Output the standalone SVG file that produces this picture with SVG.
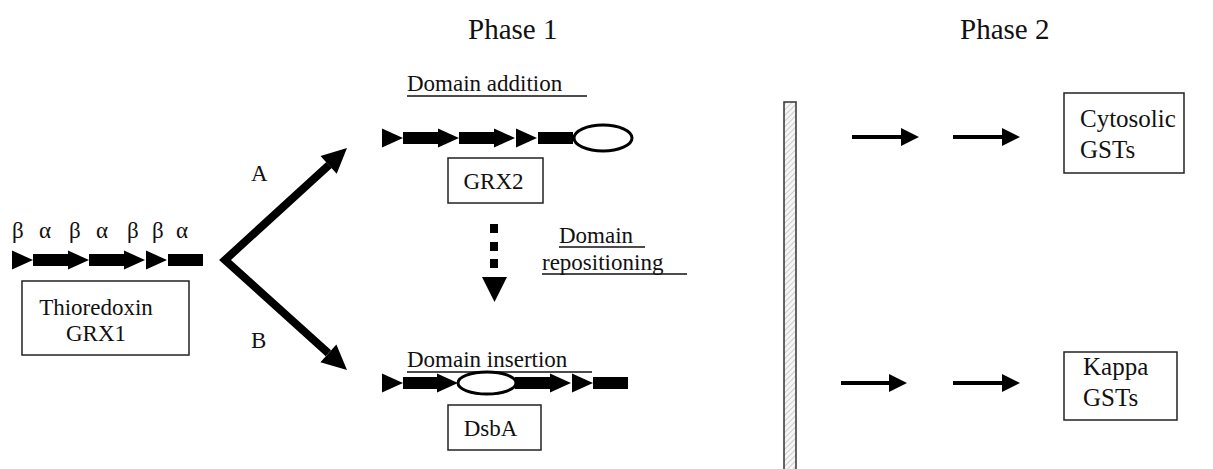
<svg xmlns="http://www.w3.org/2000/svg" width="1213" height="469" viewBox="0 0 1213 469">
<style>
text{font-family:"Liberation Serif","Times New Roman",serif;fill:#111;}
.lbl{font-size:23px;}
.big{font-size:25px;}
.ph{font-size:29px;}
.box{fill:#fff;stroke:#222;stroke-width:1.5;}
.ul{stroke:#111;stroke-width:1.5;}
.blk{fill:#000;}
.oval{fill:#fff;stroke:#000;stroke-width:3;}
.thick{stroke:#000;stroke-width:8;fill:none;}
.thin{stroke:#000;stroke-width:4;fill:none;}
</style>
<defs>
<pattern id="hatch" width="4" height="4" patternUnits="userSpaceOnUse" patternTransform="rotate(45)">
<rect width="4" height="4" fill="#f6f6f6"/>
<line x1="0" y1="0" x2="0" y2="4" stroke="#cccccc" stroke-width="2"/>
</pattern>
<path id="tri" d="M0,-9.5 L21,0 L0,9.5 Z"/>
<rect id="hel" x="0" y="-6" width="35" height="12"/>
</defs>

<text class="ph" x="468" y="39">Phase 1</text>
<text class="ph" x="960" y="39">Phase 2</text>

<g id="thioredoxin">
<text class="lbl" x="12" y="238">β</text>
<text class="lbl" x="39" y="238">α</text>
<text class="lbl" x="69" y="238">β</text>
<text class="lbl" x="96" y="238">α</text>
<text class="lbl" x="127" y="238">β</text>
<text class="lbl" x="152" y="238">β</text>
<text class="lbl" x="176" y="238">α</text>
<g class="blk">
<use href="#tri" x="12" y="260"/>
<use href="#hel" x="33" y="260"/>
<use href="#tri" x="68" y="260"/>
<use href="#hel" x="89" y="260"/>
<use href="#tri" x="124" y="260"/>
<use href="#tri" x="146" y="260"/>
<use href="#hel" x="168" y="260"/>
</g>
<rect class="box" x="22" y="281" width="167" height="74"/>
<text class="lbl" x="96" y="315" text-anchor="middle">Thioredoxin</text>
<text class="lbl" x="96" y="341" text-anchor="middle">GRX1</text>
</g>

<g id="grx2">
<text class="lbl" x="407" y="91">Domain addition</text>
<line class="ul" x1="407" y1="96" x2="587" y2="96"/>
<g class="blk">
<use href="#tri" x="382" y="138"/>
<use href="#hel" x="403" y="138"/>
<use href="#tri" x="438" y="138"/>
<use href="#hel" x="459" y="138"/>
<use href="#tri" x="494" y="138"/>
<use href="#tri" x="516" y="138"/>
<use href="#hel" x="538" y="138"/>
</g>
<ellipse class="oval" cx="603" cy="138" rx="29" ry="13"/>
<rect class="box" x="448" y="158" width="95" height="45"/>
<text class="lbl" x="493.5" y="189" text-anchor="middle">GRX2</text>
</g>

<g id="repositioning">
<text class="lbl" x="559" y="243">Domain</text>
<line class="ul" x1="559" y1="247" x2="645" y2="247"/>
<text class="lbl" x="542" y="270">repositioning</text>
<line class="ul" x1="542" y1="274" x2="687" y2="274"/>
</g>

<g id="dsba">
<text class="lbl" x="407" y="367">Domain insertion</text>
<line class="ul" x1="407" y1="372" x2="592" y2="372"/>
<g class="blk">
<use href="#tri" x="382" y="383"/>
<use href="#hel" x="403" y="383"/>
<use href="#tri" x="437" y="383"/>
<use href="#hel" x="515" y="383"/>
<use href="#tri" x="550" y="383"/>
<use href="#tri" x="572" y="383"/>
<use href="#hel" x="593" y="383"/>
</g>
<ellipse class="oval" cx="487" cy="383" rx="29" ry="11"/>
<rect class="box" x="448" y="405" width="93" height="45"/>
<text class="lbl" x="490.5" y="436" text-anchor="middle">DsbA</text>
</g>

<g id="barrier">
<rect x="784" y="102" width="12" height="380" fill="url(#hatch)" stroke="#333" stroke-width="1.5"/>
</g>

<g id="cytosolic">
<rect class="box" x="1064" y="93" width="120" height="80"/>
<text class="big" x="1080" y="127">Cytosolic</text>
<text class="big" x="1080" y="158">GSTs</text>
</g>

<g id="kappa">
<rect class="box" x="1064" y="352" width="113" height="68"/>
<text class="big" x="1083" y="375">Kappa</text>
<text class="big" x="1083" y="406">GSTs</text>
</g>

<g id="connectors">
<text class="lbl" x="251" y="181">A</text>
<text class="lbl" x="251" y="348">B</text>
<polyline class="thick" points="329,165 225,260 328.4,353.3" stroke-linejoin="miter"/>
<polygon class="blk" points="347,148 336.7,173.7 320.5,156.1"/>
<polygon class="blk" points="347,370 320.4,362.2 336.4,344.4"/>
<g class="blk">
<rect x="490" y="224" width="8" height="9"/>
<rect x="490" y="242" width="8" height="9"/>
<rect x="490" y="259" width="8" height="9"/>
<polygon points="482,277 507,277 494.5,302"/>
</g>
<line class="thin" x1="852" y1="137" x2="903" y2="137"/>
<polygon class="blk" points="901,128 919,137 901,146"/>
<line class="thin" x1="953" y1="137" x2="1004" y2="137"/>
<polygon class="blk" points="1002,128 1020,137 1002,146"/>
<line class="thin" x1="841" y1="383" x2="891" y2="383"/>
<polygon class="blk" points="889,374 907,383 889,392"/>
<line class="thin" x1="953" y1="383" x2="1004" y2="383"/>
<polygon class="blk" points="1002,374 1020,383 1002,392"/>
</g>
</svg>
